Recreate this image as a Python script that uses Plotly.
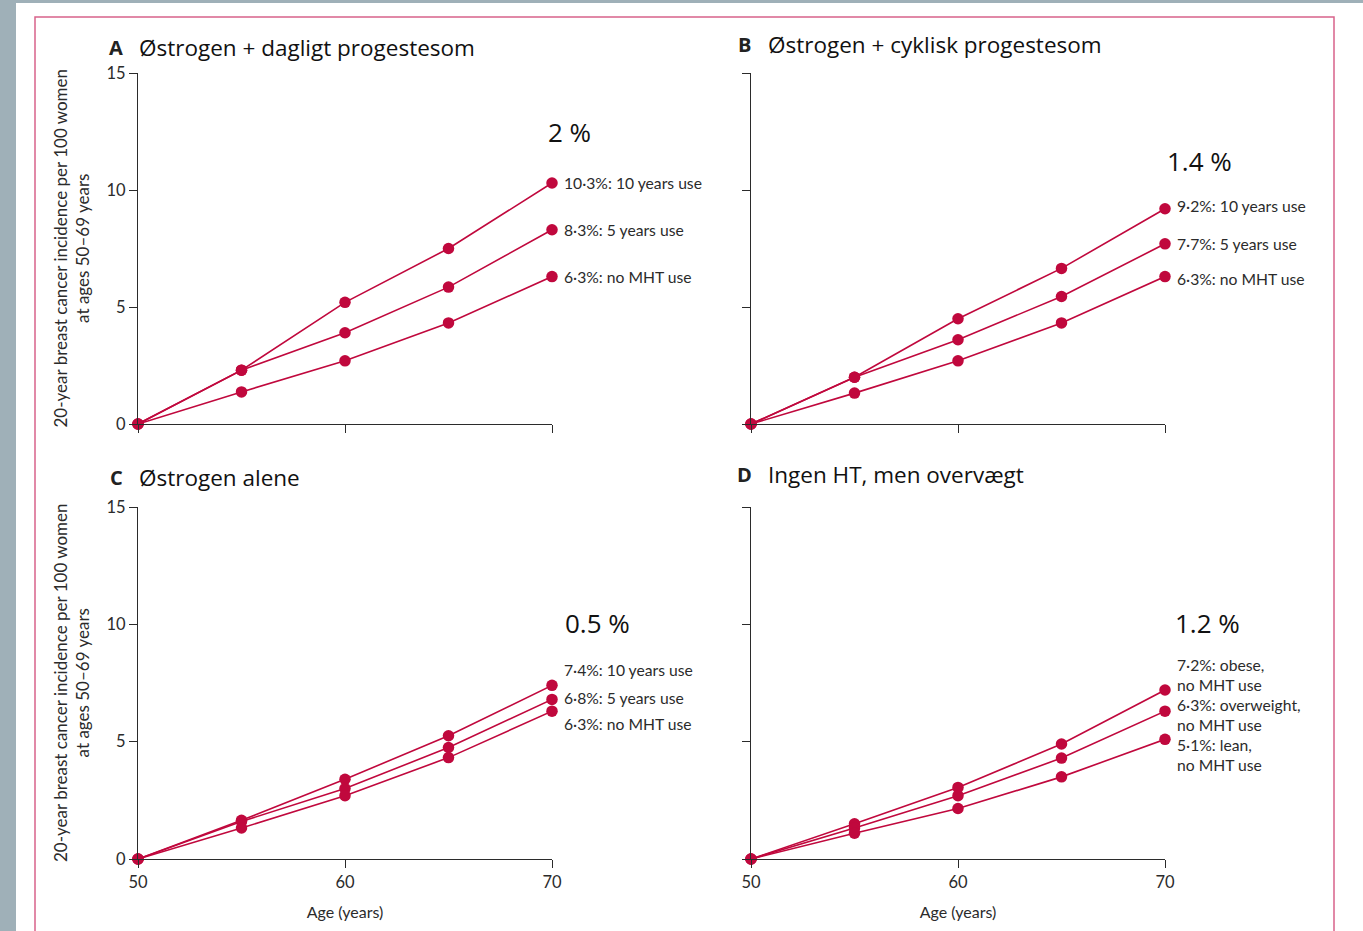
import plotly.graph_objects as go

W, H = 1363, 931
ages = [50, 55, 60, 65, 70]

# Panel A: Østrogen + dagligt progestesom
a_10y = [0, 2.3, 5.2, 7.5, 10.3]
a_5y = [0, 2.3, 3.9, 5.85, 8.3]
a_none = [0, 1.37, 2.7, 4.32, 6.3]
# Panel B: Østrogen + cyklisk progestesom
b_10y = [0, 2.0, 4.5, 6.65, 9.2]
b_5y = [0, 2.0, 3.6, 5.45, 7.7]
b_none = [0, 1.32, 2.7, 4.32, 6.3]
# Panel C: Østrogen alene
c_10y = [0, 1.65, 3.4, 5.25, 7.4]
c_5y = [0, 1.6, 3.0, 4.75, 6.8]
c_none = [0, 1.32, 2.7, 4.32, 6.3]
# Panel D: Ingen HT, men overvægt
d_obese = [0, 1.5, 3.05, 4.9, 7.2]
d_over = [0, 1.32, 2.7, 4.3, 6.3]
d_lean = [0, 1.1, 2.15, 3.5, 5.1]

a_labels = ["10·3%: 10 years use", "8·3%: 5 years use", "6·3%: no MHT use"]
b_labels = ["9·2%: 10 years use", "7·7%: 5 years use", "6·3%: no MHT use"]
c_labels = ["7·4%: 10 years use", "6·8%: 5 years use", "6·3%: no MHT use"]
d_labels = ["7·2%: obese,<br>no MHT use", "6·3%: overweight,<br>no MHT use", "5·1%: lean,<br>no MHT use"]

titles = ["Østrogen + dagligt progestesom", "Østrogen + cyklisk progestesom",
          "Østrogen alene", "Ingen HT, men overvægt"]
letters = ["A", "B", "C", "D"]
diffs = ["2 %", "1.4 %", "0.5 %", "1.2 %"]

x_ticks = [50, 60, 70]
y_ticks = [0, 5, 10, 15]

RED = "#c0083d"
TXT = "#2b2b2b"
LFONT = "Lato"
TFONT = "Open Sans"

def px(x):
    return x / W

def py(y):
    return 1 - y / H

# panel pixel boxes: (left, right, top, bottom)
boxes = [(138, 552, 73, 424), (751, 1165, 73, 424),
         (138, 552, 507, 859), (751, 1165, 507, 859)]
series = [[a_10y, a_5y, a_none], [b_10y, b_5y, b_none],
          [c_10y, c_5y, c_none], [d_obese, d_over, d_lean]]
labels = [a_labels, b_labels, c_labels, d_labels]
# vertical label nudges (pixels, positive = up) to keep labels apart
label_shift = [[0, 0, 0], [3, 0, -2], [15, 1, -13], [15, -4, -16]]

fig = go.Figure()
annotations = []
for i, (box, ser, lab) in enumerate(zip(boxes, series, labels)):
    l, r, t, b = box
    n = i + 1
    xa = "xaxis" if n == 1 else f"xaxis{n}"
    ya = "yaxis" if n == 1 else f"yaxis{n}"
    xr = "x" if n == 1 else f"x{n}"
    yr = "y" if n == 1 else f"y{n}"
    bottom_row = i >= 2
    left_col = i % 2 == 0
    fig.layout[xa] = dict(
        domain=[px(l), px(r)], anchor=yr, range=[50, 70], automargin=False,
        tickvals=x_ticks, showticklabels=bottom_row,
        ticks="outside", ticklen=8, tickwidth=1.2, tickcolor=TXT,
        showline=True, linecolor=TXT, linewidth=1.2, showgrid=False, zeroline=False,
        tickfont=dict(family=LFONT, size=16.5, color=TXT),
        title=dict(text="Age (years)" if bottom_row else "",
                   font=dict(family=LFONT, size=16, color=TXT)),
    )
    fig.layout[ya] = dict(
        domain=[py(b), py(t)], anchor=xr, range=[0, 15], automargin=False,
        tickvals=y_ticks, showticklabels=left_col,
        ticks="outside", ticklen=8, tickwidth=1.2, tickcolor=TXT,
        showline=True, linecolor=TXT, linewidth=1.2, showgrid=False, zeroline=False,
        tickfont=dict(family=LFONT, size=16.5, color=TXT),
    )
    for s, text, sh in zip(ser, lab, label_shift[i]):
        fig.add_trace(go.Scatter(
            x=ages, y=s, mode="lines+markers", xaxis=xr, yaxis=yr,
            line=dict(color=RED, width=1.6),
            marker=dict(color=RED, size=11.5), cliponaxis=False, showlegend=False,
        ))
        annotations.append(dict(
            x=70, y=s[-1], xref=xr, yref=yr, text=text, showarrow=False,
            xanchor="left", yanchor="middle", xshift=10, yshift=sh,
            align="left", font=dict(family=LFONT, size=15.7, color=TXT),
        ))
    if left_col:
        annotations.append(dict(
            x=px(l - 67), y=py((t + b) / 2), xref="paper", yref="paper",
            text="20-year breast cancer incidence per 100 women<br>at ages 50–69 years",
            showarrow=False, textangle=-90, xanchor="center", yanchor="middle",
            font=dict(family=LFONT, size=17, color=TXT),
        ))

title_pos = [(116, 137, 47), (745, 766, 45), (116, 137, 477), (744, 766, 474)]
for (lx, tx, ty), let, tit in zip(title_pos, letters, titles):
    annotations.append(dict(x=px(lx), y=py(ty), xref="paper", yref="paper", text=f"<b>{let}</b>",
                            showarrow=False, xanchor="center", yanchor="middle",
                            font=dict(family=TFONT, size=20, color="#222")))
    annotations.append(dict(x=px(tx), y=py(ty), xref="paper", yref="paper", text=tit,
                            showarrow=False, xanchor="left", yanchor="middle",
                            font=dict(family=TFONT, size=22.5, color="#111")))

diff_pos = [(546, 132), (1165, 161), (563, 623), (1173, 623)]
for (dx, dy), d in zip(diff_pos, diffs):
    annotations.append(dict(x=px(dx), y=py(dy), xref="paper", yref="paper", text=d,
                            showarrow=False, xanchor="left", yanchor="middle",
                            font=dict(family=TFONT, size=26, color="#111")))

shapes = [
    dict(type="rect", xref="paper", yref="paper", x0=px(16), x1=1.02, y0=-0.02, y1=py(3),
         fillcolor="white", line=dict(width=0), layer="below"),
    dict(type="rect", xref="paper", yref="paper", x0=px(35), x1=px(1334), y0=-0.02, y1=py(17),
         fillcolor="rgba(0,0,0,0)", line=dict(color="#d8638a", width=1.5), layer="below"),
]

fig.update_layout(
    width=W, height=H, margin=dict(l=0, r=0, t=0, b=0, pad=0, autoexpand=False),
    paper_bgcolor="#9fb0b8", plot_bgcolor="rgba(0,0,0,0)",
    annotations=annotations, shapes=shapes,
)
fig.write_html("out.html")
